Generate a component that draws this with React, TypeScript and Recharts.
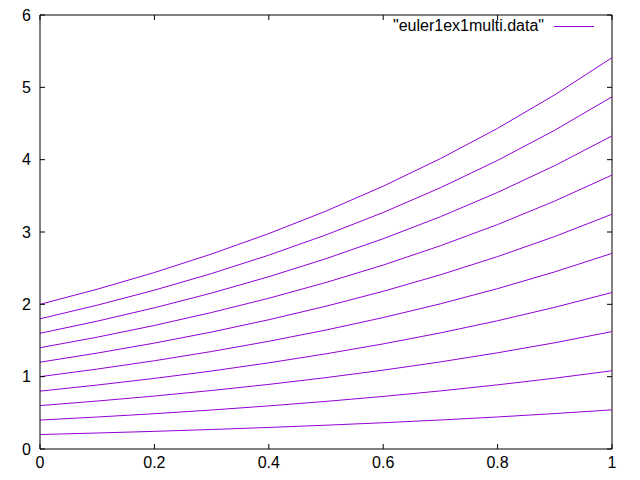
import { LineChart, Line, XAxis, YAxis, Legend, ReferenceLine } from "recharts";

const xs = [0, 0.1, 0.2, 0.3, 0.4, 0.5, 0.6, 0.7, 0.8, 0.9, 1];

const y02 = [0.2, 0.221, 0.244, 0.27, 0.298, 0.329, 0.363, 0.401, 0.443, 0.49, 0.541];
const y04 = [0.4, 0.442, 0.488, 0.539, 0.596, 0.658, 0.727, 0.803, 0.887, 0.979, 1.082];
const y06 = [0.6, 0.663, 0.732, 0.809, 0.893, 0.987, 1.09, 1.204, 1.33, 1.469, 1.623];
const y08 = [0.8, 0.884, 0.976, 1.078, 1.191, 1.316, 1.453, 1.605, 1.773, 1.959, 2.164];
const y10 = [1.0, 1.105, 1.22, 1.348, 1.489, 1.645, 1.817, 2.007, 2.217, 2.449, 2.705];
const y12 = [1.2, 1.326, 1.464, 1.617, 1.787, 1.974, 2.18, 2.408, 2.66, 2.938, 3.246];
const y14 = [1.4, 1.546, 1.708, 1.887, 2.084, 2.302, 2.543, 2.81, 3.103, 3.428, 3.787];
const y16 = [1.6, 1.767, 1.952, 2.156, 2.382, 2.631, 2.907, 3.211, 3.547, 3.918, 4.328];
const y18 = [1.8, 1.988, 2.196, 2.426, 2.68, 2.96, 3.27, 3.612, 3.99, 4.407, 4.869];
const y20 = [2.0, 2.209, 2.44, 2.696, 2.978, 3.289, 3.633, 4.014, 4.433, 4.897, 5.41];

const series: Record<string, number[]> = { y02, y04, y06, y08, y10, y12, y14, y16, y18, y20 };

const xTicks = [0, 0.2, 0.4, 0.6, 0.8, 1];
const yTicks = [0, 1, 2, 3, 4, 5, 6];

const legendLabel = '"euler1ex1multi.data"';

const data = xs.map((x, i) => {
  const row: Record<string, number> = { x };
  Object.keys(series).forEach((k) => {
    row[k] = series[k][i];
  });
  return row;
});

const COLOR = "#9400d3";
const FONT = "'Liberation Sans', Arial, sans-serif";

// layout
const W = 640;
const H = 480;
const M = { top: 15, right: 28, bottom: 0, left: 0 };
const X_AXIS_H = 31;
const Y_AXIS_W = 40;
const PLOT_W = W - M.left - M.right - Y_AXIS_W;
const PLOT_H = H - M.top - M.bottom - X_AXIS_H;
const TICK_LEN = 5;
const X_GAP = 8;
const Y_GAP = 9;

// gnuplot style: inward ticks on both the axis and the opposite border
const XTick = (props: any) => {
  const { x, y, payload } = props;
  const axisY = y - X_GAP;
  const topY = axisY - PLOT_H;
  return (
    <g>
      <line x1={x} x2={x} y1={axisY} y2={axisY - TICK_LEN} stroke="#000" />
      <line x1={x} x2={x} y1={topY} y2={topY + TICK_LEN} stroke="#000" />
      <text x={x} y={y} dy="0.71em" textAnchor="middle" fontSize={16} fontFamily={FONT} fill="#000">
        {String(payload.value)}
      </text>
    </g>
  );
};

const YTick = (props: any) => {
  const { x, y, payload } = props;
  const axisX = x + Y_GAP;
  const rightX = axisX + PLOT_W;
  return (
    <g>
      <line x1={axisX} x2={axisX + TICK_LEN} y1={y} y2={y} stroke="#000" />
      <line x1={rightX} x2={rightX - TICK_LEN} y1={y} y2={y} stroke="#000" />
      <text x={x} y={y} dy="0.355em" textAnchor="end" fontSize={16} fontFamily={FONT} fill="#000">
        {String(payload.value)}
      </text>
    </g>
  );
};

const LegendBox = () => (
  <svg width={W} height={40} style={{ display: "block" }}>
    <text x={544} y={31} textAnchor="end" fontSize={16} fontFamily={FONT} fill="#000">
      {legendLabel}
    </text>
    <line x1={554} x2={594} y1={26.5} y2={26.5} stroke={COLOR} strokeWidth={1} />
  </svg>
);

export default function App() {
  return (
    <div style={{ position: "absolute", left: 0, top: 0, background: "#fff" }}>
      <LineChart width={W} height={H} data={data} margin={M} style={{ fontFamily: FONT }}>
        <XAxis
          dataKey="x"
          type="number"
          domain={[0, 1]}
          ticks={xTicks}
          height={X_AXIS_H}
          tick={<XTick />}
          tickLine={false}
          tickSize={0}
          tickMargin={X_GAP}
          stroke="#000"
          interval={0}
        />
        <YAxis
          type="number"
          domain={[0, 6]}
          ticks={yTicks}
          width={Y_AXIS_W}
          tick={<YTick />}
          tickLine={false}
          tickSize={0}
          tickMargin={Y_GAP}
          stroke="#000"
          interval={0}
        />
        {/* top and right border */}
        <ReferenceLine y={6} stroke="#000" strokeWidth={1} ifOverflow="visible" />
        <ReferenceLine x={1} stroke="#000" strokeWidth={1} ifOverflow="visible" />
        <Legend
          verticalAlign="middle"
          align="center"
          content={() => <LegendBox />}
          wrapperStyle={{ top: 0, left: 0, width: W, height: 40 }}
        />
        {Object.keys(series).map((k) => (
          <Line
            key={k}
            dataKey={k}
            type="linear"
            stroke={COLOR}
            strokeWidth={1}
            dot={false}
            activeDot={false}
            isAnimationActive={false}
            legendType="none"
          />
        ))}
      </LineChart>
    </div>
  );
}
